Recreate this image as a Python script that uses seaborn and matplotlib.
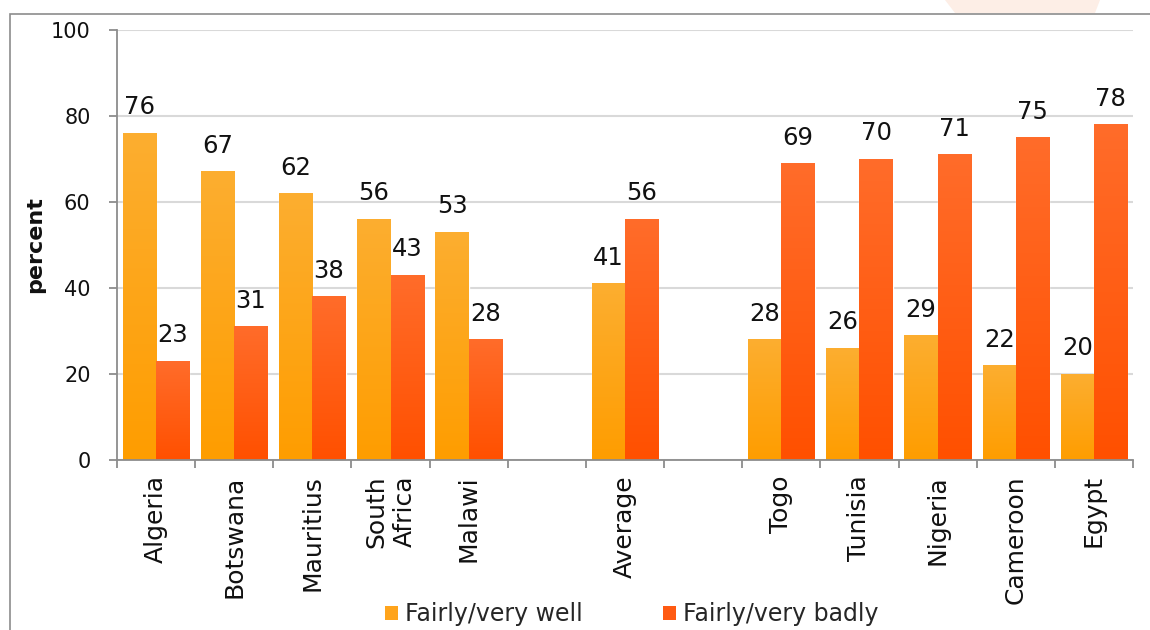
import numpy as np
import pandas as pd
import matplotlib
matplotlib.use("Agg")
import matplotlib.pyplot as plt
from matplotlib.colors import LinearSegmentedColormap
from matplotlib.patches import Rectangle, Polygon, Patch
import seaborn as sns

# Survey: how well / badly the government handles the economy, by country
countries = ["Algeria", "Botswana", "Mauritius", "South\nAfrica", "Malawi", "",
             "Average", " ", "Togo", "Tunisia", "Nigeria", "Cameroon", "Egypt"]
well = [76, 67, 62, 56, 53, np.nan, 41, np.nan, 28, 26, 29, 22, 20]
badly = [23, 31, 38, 43, 28, np.nan, 56, np.nan, 69, 70, 71, 75, 78]
series = ["Fairly/very well", "Fairly/very badly"]
y_ticks = [0, 20, 40, 60, 80, 100]

# colour pairs: (top of bar, bottom of bar)
grad_colors = [("#FCAE30", "#FF9D00"), ("#FF6C2A", "#FF5000")]
legend_colors = ["#FFA41C", "#FF5A12"]

rows = []
for name, vals in zip(series, [well, badly]):
    for c, v in zip(countries, vals):
        if not np.isnan(v):
            rows.append({"country": c, "series": name, "value": v})
df = pd.DataFrame(rows)

sns.set_theme(style="white")
plt.rcParams["font.family"] = ["DejaVu Sans"]

W, H = 1150, 630
fig = plt.figure(figsize=(W / 100, H / 100), dpi=100)
fig.patch.set_facecolor("white")
ax = fig.add_axes([117 / W, 1 - 460 / H, (1133 - 117) / W, (460 - 30) / H])

sns.barplot(data=df, x="country", y="value", hue="series", order=countries,
            hue_order=series, palette=legend_colors, width=0.85, gap=0,
            saturation=1, legend=False, ax=ax, zorder=2)

# vertical colour gradient on every bar
for idx, cont in enumerate(ax.containers):
    cmap = LinearSegmentedColormap.from_list(
        f"g{idx}", [grad_colors[idx][1], grad_colors[idx][0]])
    for bar in cont:
        h = bar.get_height()
        if np.isnan(h):
            continue
        x0, w = bar.get_x(), bar.get_width()
        grad = np.linspace(1, 0, 256)[:, None]
        ax.imshow(grad, extent=[x0, x0 + w, 0, h], cmap=cmap, vmin=0, vmax=1,
                  aspect="auto", zorder=2.5, interpolation="bilinear")
        ax.annotate(f"{h:.0f}", (x0 + w / 2, h), xytext=(0, 13.5),
                    textcoords="offset points", ha="center", va="baseline",
                    fontsize=17.5, color="#111111", zorder=4)

ax.set_xlim(-0.5, len(countries) - 0.5)
ax.set_ylim(0, 100)
ax.set_yticks(y_ticks)
ax.set_yticklabels([str(t) for t in y_ticks])
ax.yaxis.grid(True, color="#d9d9d9", linewidth=1.5)
ax.set_axisbelow(True)

# category labels at bar-group centres, tick marks between groups
ax.set_xticks(range(len(countries)))
ax.set_xticklabels(countries, rotation=90, ha="center", va="top",
                   multialignment="right")
ax.set_xticks(np.arange(-0.5, len(countries), 1), minor=True)
ax.tick_params(axis="x", which="major", length=0, pad=11, labelsize=18,
               labelcolor="#111111")
ax.tick_params(axis="x", which="minor", length=6, width=1.3,
               color="#8c8c8c", direction="out", bottom=True)
ax.tick_params(axis="y", which="major", length=6, width=1.3,
               color="#8c8c8c", direction="out", left=True, pad=13,
               labelsize=15, labelcolor="#111111")

for s in ["top", "right"]:
    ax.spines[s].set_visible(False)
for s in ["left", "bottom"]:
    ax.spines[s].set_color("#8c8c8c")
    ax.spines[s].set_linewidth(1.3)

ax.set_xlabel("")
ax.set_ylabel("percent", fontsize=16, fontweight="bold", color="#111111")
ax.yaxis.set_label_coords((45 - 117) / (1133 - 117), 0.5)

handles = [Patch(facecolor=c, edgecolor="none") for c in legend_colors]
fig.legend(handles, series, loc="center",
           bbox_to_anchor=(632 / W, 1 - 614 / H), ncol=2, frameon=False,
           fontsize=17, handlelength=0.55, handleheight=0.55,
           handletextpad=0.3, columnspacing=3.4)

# faint banner artwork above the chart frame
fig.patches.append(Polygon([[945 / W, 1.0], [1100 / W, 1.0], [1095 / W, 1 - 13 / H],
                            [955 / W, 1 - 13 / H]], closed=True,
                           transform=fig.transFigure, facecolor="#fdeee6",
                           edgecolor="none", zorder=0))

# outer frame of the chart
fig.patches.append(Rectangle((10 / W, -0.2), 1.2, 1.2 - 14 / H,
                             transform=fig.transFigure, fill=False,
                             edgecolor="#8c8c8c", linewidth=1.2, zorder=1))

fig.savefig("out.png", dpi=100, facecolor="white")
